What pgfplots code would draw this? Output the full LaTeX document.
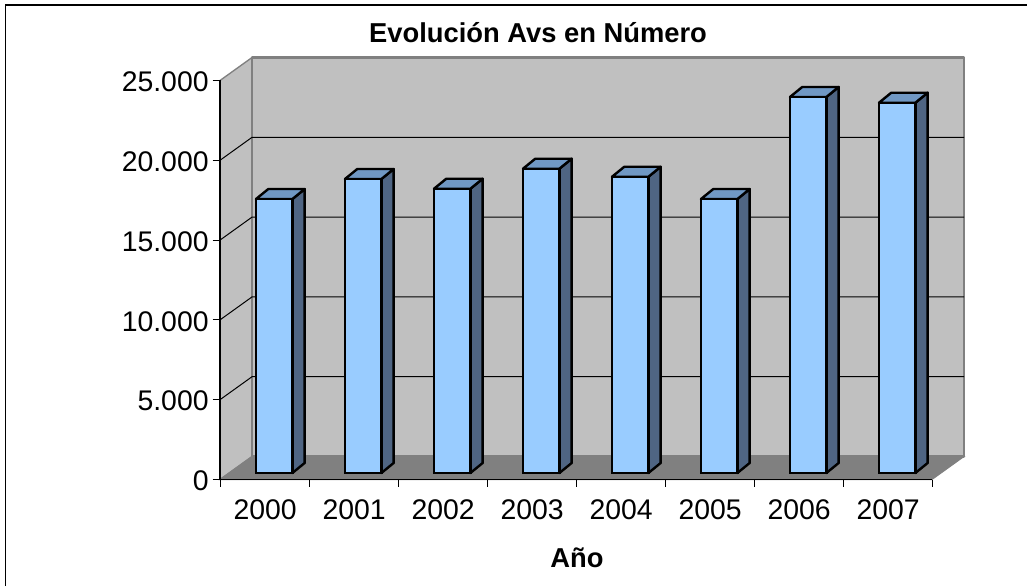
\documentclass[border=0pt]{standalone}
\usepackage{pgfplots}
\pgfplotsset{compat=1.18}
\usepackage{fontspec}
\setmainfont{Liberation Sans}
\definecolor{wall}{HTML}{C0C0C0}
\definecolor{edge}{HTML}{808080}
\definecolor{front}{HTML}{99CCFF}
\definecolor{topf}{HTML}{7098C4}
\definecolor{sidef}{HTML}{4F6583}
% top and side faces of a bar: #1 category position, #2 value
\newcommand{\barfaces}[2]{%
  \addplot[draw=black,line width=1.8pt,line join=round,fill=sidef,forget plot] coordinates
    {({#1+0.2045},0) ({#1+0.3427},627) ({#1+0.3427},{#2+627}) ({#1+0.2045},#2)} --cycle;
  \addplot[draw=black,line width=1.8pt,line join=round,fill=topf,forget plot] coordinates
    {({#1-0.2045},#2) ({#1+0.2045},#2) ({#1+0.3427},{#2+627}) ({#1-0.0663},{#2+627})} --cycle;
}
\newcommand{\gridl}[1]{%
  \addplot[black,line width=0.75pt,forget plot] coordinates
    {(-0.5,#1) (-0.14,{#1+1441}) (7.86,{#1+1441})};
}
\begin{document}
\begin{tikzpicture}[x=0.75pt,y=0.75pt]
\useasboundingbox (0,0) rectangle (1027,586);
\fill[white] (0,0) rectangle (1027,586);
\draw[black,line width=1pt] (5.5,0) -- (5.5,581) -- (1027,581);
\begin{axis}[
  at={(165pt,79.875pt)},anchor=south west,
  scale only axis,width=534pt,height=299.25pt,
  xmin=-0.5,xmax=7.5,ymin=0,ymax=25000,
  clip=false,axis on top,
  axis x line*=bottom,axis y line*=left,
  axis line style={-,line width=1pt,black},
  tick align=outside,
  xtick={0,...,7},
  xticklabels={2000,2001,2002,2003,2004,2005,2006,2007},
  minor xtick={-0.5,0.5,1.5,2.5,3.5,4.5,5.5,6.5,7.5},
  major x tick style={draw=none},
  minor tick length=5.5pt,
  minor x tick style={black,line width=0.75pt},
  ytick={0,5000,10000,15000,20000,25000},
  major tick length=5.5pt,
  y tick style={black,line width=0.75pt},
  scaled y ticks=false,
  /pgf/number format/.cd,1000 sep={.},min exponent for 1000 sep=0,assume math mode=true,
  /pgfplots/.cd,
  tick label style={font=\fontsize{21.3}{24}\selectfont},
  xticklabel style={yshift=-6pt,xshift=0.5pt},
  yticklabel style={xshift=0.5pt,yshift=-1pt},
]
\addplot[draw=edge,line width=2pt,fill=wall,line join=round,forget plot] coordinates
  {(-0.14,1441) (7.86,1441) (7.86,26441) (-0.14,26441)} --cycle;
\addplot[draw=edge,line width=1pt,fill=wall,line join=round,forget plot] coordinates
  {(-0.5,0) (-0.14,1441) (-0.14,26441) (-0.5,25000)} --cycle;
\addplot[draw=edge,line width=2pt,forget plot] coordinates {(-0.14,1441) (-0.14,26441)};
\addplot[draw=edge,line width=0.75pt,fill=edge,forget plot] coordinates
  {(-0.5,0) (7.5,0) (7.86,1441) (-0.14,1441)} --cycle;
\gridl{5000}\gridl{10000}\gridl{15000}\gridl{20000}
\end{axis}
\begin{axis}[
  at={(172.25pt,84.75pt)},anchor=south west,
  scale only axis,width=534pt,height=299.25pt,
  xmin=-0.5,xmax=7.5,ymin=0,ymax=25000,
  clip=false,hide axis,
]
\barfaces{0}{17165}
\barfaces{1}{18420}
\barfaces{2}{17810}
\barfaces{3}{19065}
\barfaces{4}{18560}
\barfaces{5}{17165}
\barfaces{6}{23560}
\barfaces{7}{23200}
\addplot[ybar,bar width=27.3pt,bar shift=0pt,draw=black,line width=1.8pt,fill=front] coordinates
  {(0,17165) (1,18420) (2,17810) (3,19065) (4,18560) (5,17165) (6,23560) (7,23200)};
\end{axis}
\node[font=\bfseries\fontsize{20.5}{24}\selectfont] at (538,553) {Evolución Avs en Número};
\node[font=\bfseries\fontsize{20.5}{24}\selectfont] at (577,28) {Año};
\end{tikzpicture}
\end{document}
